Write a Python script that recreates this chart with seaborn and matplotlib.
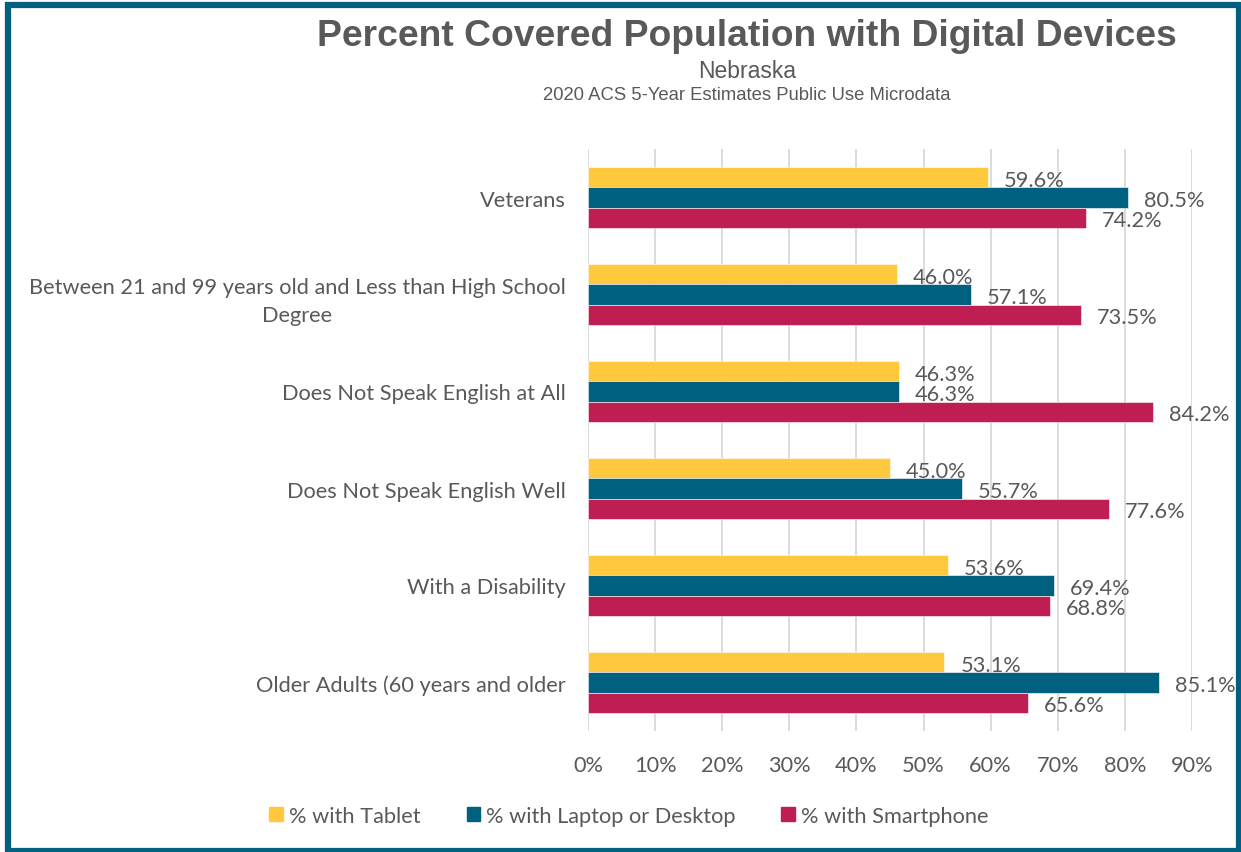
import matplotlib
matplotlib.use("Agg")
import matplotlib.pyplot as plt
import matplotlib.patches as mpatches
from matplotlib.ticker import PercentFormatter, MultipleLocator
import seaborn as sns
import pandas as pd

# Data
groups = [
    "Veterans",
    "Between 21 and 99 years old and Less than High School\nDegree",
    "Does Not Speak English at All",
    "Does Not Speak English Well",
    "With a Disability",
    "Older Adults (60 years and older",
]
devices = ["% with Tablet", "% with Laptop or Desktop", "% with Smartphone"]
tablet = [59.6, 46.0, 46.3, 45.0, 53.6, 53.1]
laptop = [80.5, 57.1, 46.3, 55.7, 69.4, 85.1]
smartphone = [74.2, 73.5, 84.2, 77.6, 68.8, 65.6]

colors = ["#FFC83D", "#00607F", "#BE1E52"]
text_gray = "#595959"
label_font = ["Lato", "DejaVu Sans"]
fs = 15.7

df = pd.DataFrame({
    "group": groups * 3,
    "device": [d for d in devices for _ in groups],
    "value": tablet + laptop + smartphone,
})

sns.set_theme(style="white")
plt.rcParams["font.family"] = label_font

fig = plt.figure(figsize=(12.41, 8.53), dpi=100)
ax = fig.add_axes([588 / 1241, 1 - 732 / 853, (1192 - 588) / 1241, (732 - 150) / 853])

sns.barplot(data=df, y="group", x="value", hue="device", order=groups,
            hue_order=devices, palette=colors, saturation=1, width=0.62, orient="h",
            edgecolor="white", linewidth=0.4, ax=ax)

ax.set_xlim(0, 90)
ax.set_ylim(len(groups) - 0.5, -0.5)
ax.xaxis.set_major_locator(MultipleLocator(10))
ax.xaxis.set_major_formatter(PercentFormatter(decimals=0))
ax.grid(axis="x", color="#D9D9D9", linewidth=1.3)
ax.set_axisbelow(True)
for s in ax.spines.values():
    s.set_visible(False)
ax.set_xlabel("")
ax.set_ylabel("")
ax.tick_params(axis="x", length=0, pad=17, labelsize=fs, labelcolor=text_gray)
ax.tick_params(axis="y", length=0, pad=16, labelsize=fs, labelcolor=text_gray)
for t in ax.get_yticklabels():
    t.set_multialignment("center")
    t.set_linespacing(1.55)

# Value labels, set slightly below the bar centre
for cont in ax.containers:
    texts = ax.bar_label(cont, labels=[f"{v:.1f}%" for v in cont.datavalues],
                         padding=11.5, fontsize=fs, color=text_gray)
    for t in texts:
        t.xyann = (11.5, -1.8)

ax.legend_.remove()
handles = [mpatches.Patch(color=c, label=d) for c, d in zip(colors, devices)]
fig.legend(handles=handles, loc="center", bbox_to_anchor=(629 / 1241, 1 - 817 / 853),
           ncol=3, frameon=False, fontsize=fs, labelcolor=text_gray,
           handlelength=0.6, handleheight=0.6, handletextpad=0.3, columnspacing=2.1)

fig.text(747 / 1241, 1 - 36 / 853, "Percent Covered Population with Digital Devices",
         ha="center", va="center", fontsize=26.8, fontweight="bold",
         color=text_gray, family="Liberation Sans")
fig.text(747 / 1241, 1 - 71 / 853, "Nebraska", ha="center", va="center",
         fontsize=16.5, color=text_gray, family="Liberation Sans")
fig.text(747 / 1241, 1 - 96 / 853, "2020 ACS 5-Year Estimates Public Use Microdata",
         ha="center", va="center", fontsize=13.3, color=text_gray, family="Liberation Sans")

# Outer frame
fig.patches.append(mpatches.Rectangle((7.5 / 1241, 1.5 / 853), 1 - 10 / 1241, 1 - 7 / 853,
                                      transform=fig.transFigure, fill=False,
                                      edgecolor="#00607F", linewidth=4.5))

fig.savefig("out.png", dpi=100)
